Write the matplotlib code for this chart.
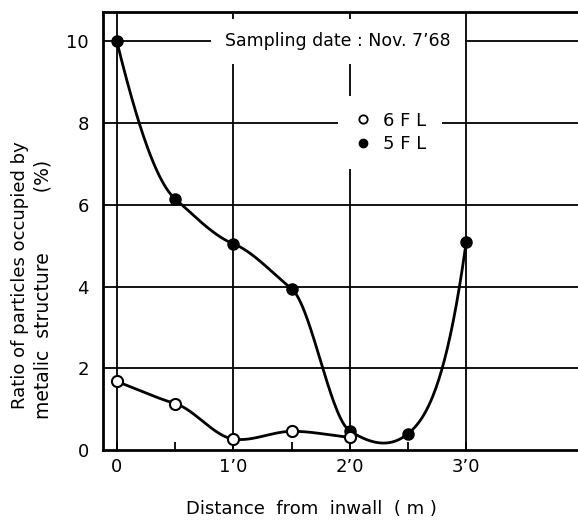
import numpy as np
import matplotlib
matplotlib.use("Agg")
import matplotlib.pyplot as plt
from matplotlib.lines import Line2D

# ---- data ----
distance = [0.0, 0.5, 1.0, 1.5, 2.0, 2.5, 3.0]
fl5 = [10.0, 6.15, 5.05, 3.95, 0.47, 0.4, 5.1]
dist6 = [0.0, 0.5, 1.0, 1.5, 2.0]
fl6 = [1.68, 1.14, 0.27, 0.46, 0.31]
xticks = [0, 1.0, 2.0, 3.0]
xticklabels = ["0", "1\u20190", "2\u20190", "3\u20190"]
yticks = [0, 2, 4, 6, 8, 10]


def smooth_path(x, y, k=0.5, start_k=1.0, end_k=1.0, n=60):
    """Smooth drawing path through the given points (scaled cardinal spline)."""
    x = np.asarray(x, float); y = np.asarray(y, float)
    m = len(x)
    t = np.empty(m)
    t[0] = start_k * (y[1] - y[0]) / (x[1] - x[0])
    t[-1] = end_k * (y[-1] - y[-2]) / (x[-1] - x[-2])
    for i in range(1, m - 1):
        t[i] = k * (y[i + 1] - y[i - 1]) / (x[i + 1] - x[i - 1])
    xs_all, ys_all = [], []
    for i in range(m - 1):
        h = x[i + 1] - x[i]
        s = np.linspace(0, 1, n)
        h00 = 2 * s**3 - 3 * s**2 + 1
        h10 = s**3 - 2 * s**2 + s
        h01 = -2 * s**3 + 3 * s**2
        h11 = s**3 - s**2
        xs_all.append(x[i] + s * h)
        ys_all.append(h00 * y[i] + h10 * h * t[i] + h01 * y[i + 1] + h11 * h * t[i + 1])
    return np.concatenate(xs_all), np.concatenate(ys_all)


plt.rcParams['font.family'] = ['DejaVu Sans']
fig = plt.figure(figsize=(5.78, 5.24), dpi=100)
ax = fig.add_axes([0.178, 0.141, 0.822, 0.836])
ax.set_xlim(-0.12, 3.96)
ax.set_ylim(0, 10.72)

ax.spines['right'].set_visible(False)
for s in ['left', 'top', 'bottom']:
    ax.spines[s].set_linewidth(2)

# grid
for yv in yticks[1:]:
    ax.axhline(yv, color='black', lw=1.3, zorder=1)
for xv in xticks:
    ax.axvline(xv, color='black', lw=1.3, zorder=1)

xs, ys = smooth_path(distance, fl5, k=0.5, start_k=1.5, end_k=2.2)
ax.plot(xs, ys, color='black', lw=2, zorder=3)
xs6, ys6 = smooth_path(dist6, fl6, k=0.6)
ax.plot(xs6, ys6, color='black', lw=2, zorder=3)
ax.plot(distance, fl5, 'o', color='black', ms=8, zorder=4)
ax.plot(dist6, fl6, 'o', mfc='white', mec='black', mew=1.5, ms=8, zorder=5)

ax.set_xticks(xticks)
ax.set_xticklabels(xticklabels, fontsize=13)
ax.set_xticks([0.5, 1.5, 2.5], minor=True)
ax.set_yticks(yticks)
ax.set_yticklabels([str(v) for v in yticks], fontsize=13)
ax.tick_params(axis='x', which='both', direction='in', length=6, width=1.3, pad=6)
ax.tick_params(axis='y', length=0, pad=10)

ax.text(1.9, 10.0, "Sampling date : Nov. 7\u201968", fontsize=12.5, ha='center', va='center',
        zorder=6, bbox=dict(facecolor='white', edgecolor='none', pad=10))

handles = [Line2D([], [], ls='none', marker='o', mfc='white', mec='black', mew=1.3, ms=6),
           Line2D([], [], ls='none', marker='o', color='black', ms=6)]
leg = ax.legend(handles, ["6 F L", "5 F L"], loc='upper left', bbox_to_anchor=(0.475, 0.83),
                frameon=True, fontsize=13, handletextpad=0.6, handlelength=1.0,
                labelspacing=0.3, borderpad=0.9)
leg.get_frame().set_edgecolor('none')
leg.get_frame().set_facecolor('white')
leg.get_frame().set_alpha(1)
leg.set_zorder(6)

fig.text(0.035, 0.475, "Ratio of particles occupied by", rotation=90, fontsize=13,
         ha='center', va='center')
fig.text(0.075, 0.447, "metalic  structure          (%)", rotation=90, fontsize=13.5,
         ha='center', va='center')
fig.text(0.538, 0.028, "Distance  from  inwall  ( m )", fontsize=13, ha='center', va='center')

fig.savefig("out.png", dpi=100)
